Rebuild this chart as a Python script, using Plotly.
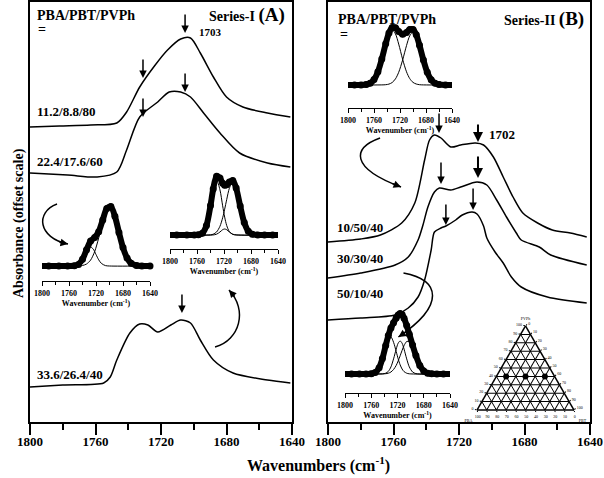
import plotly.graph_objects as go

FONT = "Liberation Serif"

# ---- Series-I (A): PBA/PBT/PVPh main spectra (offset absorbance, arb. units) ----
a1_wn = [1800, 1782, 1763, 1747, 1741, 1733, 1724, 1716, 1708, 1702, 1696, 1688, 1680, 1670, 1655, 1641]
a1_ab = [295, 296, 297, 299, 310, 335, 356, 372, 383, 384, 369, 345, 325, 315, 309, 305]

a2_wn = [1800, 1777, 1759, 1747, 1741, 1733, 1722, 1715, 1708, 1702, 1694, 1684, 1672, 1655, 1641]
a2_ab = [249, 247, 245, 250, 272, 305, 320, 330, 330, 325, 309, 289, 269, 259, 255]

a3_wn = [1800, 1780, 1755, 1751, 1747, 1739, 1733, 1728, 1722, 1714, 1708, 1702, 1696, 1688, 1676, 1655, 1641]
a3_ab = [35, 37, 39, 45, 62, 89, 98, 97, 90, 97, 102, 99, 82, 62, 49, 42, 39]

a_labels = ["11.2/8.8/80", "22.4/17.6/60", "33.6/26.4/40"]

# ---- Series-II (B) ----
b1_wn = [1800, 1780, 1768, 1755, 1747, 1741, 1738, 1735, 1731, 1725, 1719, 1710, 1705, 1699, 1693, 1687, 1681, 1672, 1663, 1652, 1642]
b1_ab = [180, 183, 187, 199, 219, 262, 282, 287, 284, 275, 277, 279, 277, 265, 245, 225, 209, 199, 192, 189, 185]

b2_wn = [1800, 1780, 1759, 1751, 1745, 1742, 1739, 1735, 1732, 1725, 1719, 1709, 1703, 1697, 1691, 1685, 1682, 1671, 1664, 1642]
b2_ab = [144, 149, 157, 165, 182, 197, 215, 230, 234, 232, 235, 240, 237, 222, 205, 189, 182, 175, 167, 157]

b3_wn = [1800, 1780, 1759, 1751, 1745, 1741, 1737, 1735, 1731, 1728, 1722, 1718, 1712, 1709, 1705, 1703, 1698, 1693, 1688, 1682, 1666, 1642]
b3_ab = [102, 104, 107, 114, 125, 142, 172, 190, 194, 196, 202, 207, 210, 208, 196, 184, 170, 159, 145, 135, 125, 119]

b_labels = ["10/50/40", "30/30/40", "50/10/40"]

# ---- curve-fitting insets: measured band (dots) and fitted components ----
# inset in (A), left
i1_wn = [1803, 1790, 1775, 1762, 1752, 1746, 1740, 1734, 1728, 1722, 1716, 1710, 1704, 1698, 1692, 1686, 1680, 1674, 1668, 1660, 1652, 1640]
i1_ab = [0, 0, 0, 0, 0.2, 1.6, 6.7, 16.3, 24.9, 28.6, 34.3, 46.1, 57.5, 59.4, 49.7, 33.6, 18.4, 8.1, 2.8, 0.5, 0, 0]
i1_c1_wn = [1800, 1750, 1745, 1740, 1734, 1728, 1722, 1716, 1710, 1704, 1700, 1696, 1690, 1684, 1678, 1672, 1666, 1660, 1652, 1640]
i1_c1_ab = [0, 0, 0.1, 0.5, 2.0, 5.9, 14.3, 28.1, 44.6, 57.3, 60, 57.3, 44.6, 28.1, 14.3, 5.9, 2.0, 0.5, 0, 0]
i1_c2_wn = [1800, 1756, 1750, 1744, 1740, 1736, 1732, 1728, 1724, 1720, 1716, 1712, 1706, 1700, 1640]
i1_c2_ab = [0, 0, 0.4, 2.6, 6.2, 11.5, 16.8, 19, 16.8, 11.5, 6.2, 2.6, 0.4, 0, 0]

# inset in (A), right
i2_wn = [1803, 1790, 1775, 1764, 1758, 1752, 1746, 1740, 1736, 1731, 1726, 1722, 1719, 1716, 1712, 1707, 1702, 1696, 1690, 1684, 1678, 1670, 1660, 1648, 1636]
i2_ab = [0, 0, 0, 0, 0.2, 1.8, 9.5, 29.4, 46.0, 58.8, 56.9, 51.7, 49.7, 50.2, 53.1, 54.4, 46.9, 28.9, 12.5, 3.8, 0.8, 0.1, 0, 0, 0]
i2_c1_wn = [1800, 1764, 1758, 1752, 1746, 1740, 1736, 1731, 1726, 1722, 1719, 1716, 1712, 1707, 1702, 1640]
i2_c1_ab = [0, 0, 0.2, 1.8, 9.5, 29.2, 45.2, 55, 45.2, 29.2, 17.9, 9.5, 3.3, 0.6, 0.1, 0]
i2_c2_wn = [1800, 1740, 1736, 1731, 1726, 1722, 1719, 1716, 1712, 1707, 1702, 1696, 1690, 1684, 1678, 1670, 1640]
i2_c2_ab = [0, 0.2, 0.8, 3.0, 8.7, 17.2, 25.8, 35.4, 46.8, 53, 46.8, 28.9, 12.5, 3.8, 0.8, 0.1, 0]
i2_c3_wn = [1800, 1737, 1731, 1726, 1722, 1719, 1716, 1712, 1707, 1701, 1640]
i2_c3_ab = [0, 0, 0.8, 3.0, 5.3, 6, 5.3, 3.0, 0.8, 0, 0]

# inset in (B), top
i3_wn = [1803, 1790, 1780, 1772, 1766, 1760, 1754, 1748, 1742, 1737, 1732, 1727, 1722, 1716, 1710, 1705, 1700, 1695, 1690, 1684, 1678, 1672, 1666, 1660, 1650, 1638]
i3_ab = [0, 0, 0, 0.5, 1.8, 5.4, 13.2, 25.9, 41.2, 52.0, 57.5, 57.2, 53.6, 50.7, 52.6, 55.6, 55.6, 50.2, 39.7, 25.0, 12.7, 5.2, 1.7, 0.5, 0, 0]
i3_c1_wn = [1800, 1780, 1772, 1766, 1760, 1754, 1748, 1742, 1737, 1732, 1727, 1722, 1716, 1710, 1705, 1700, 1695, 1690, 1684, 1640]
i3_c1_ab = [0, 0, 0.5, 1.8, 5.4, 13.2, 25.8, 40.9, 51.1, 55, 51.1, 40.9, 25.8, 13.2, 6.4, 2.6, 1.0, 0.3, 0.1, 0]
i3_c2_wn = [1800, 1748, 1742, 1737, 1732, 1727, 1722, 1716, 1710, 1705, 1700, 1695, 1690, 1684, 1678, 1672, 1666, 1660, 1650, 1640]
i3_c2_ab = [0, 0.1, 0.3, 0.9, 2.5, 6.1, 12.7, 24.9, 39.4, 49.2, 53, 49.2, 39.4, 24.9, 12.7, 5.2, 1.7, 0.5, 0, 0]

# inset in (B), bottom
i4_wn = [1803, 1790, 1778, 1768, 1760, 1754, 1748, 1743, 1738, 1734, 1730, 1726, 1722, 1719, 1716, 1713, 1710, 1706, 1702, 1697, 1692, 1686, 1680, 1674, 1668, 1660, 1650, 1639]
i4_ab = [0, 0, 0, 0, 0.2, 1.4, 6.2, 15.4, 28.4, 38.4, 46.1, 51.3, 56.0, 59.0, 60.4, 59.4, 55.7, 48.4, 39.8, 29.0, 18.6, 8.6, 3.1, 0.8, 0.2, 0, 0, 0]
i4_c1_wn = [1800, 1768, 1760, 1754, 1748, 1743, 1738, 1734, 1730, 1726, 1722, 1719, 1716, 1713, 1710, 1706, 1702, 1640]
i4_c1_ab = [0, 0, 0.2, 1.4, 6.2, 15.2, 27.3, 35.0, 37, 31.7, 22.5, 15.2, 9.2, 5.0, 2.4, 0.8, 0.2, 0]
i4_c2_wn = [1800, 1748, 1743, 1738, 1734, 1730, 1726, 1722, 1719, 1716, 1713, 1710, 1706, 1702, 1697, 1692, 1686, 1640]
i4_c2_ab = [0, 0, 0.1, 0.8, 2.6, 7.1, 15.1, 24.9, 30.8, 33, 30.8, 24.9, 15.1, 7.1, 2.0, 0.4, 0, 0]
i4_c3_wn = [1800, 1743, 1738, 1734, 1730, 1726, 1722, 1719, 1716, 1713, 1710, 1706, 1702, 1697, 1692, 1686, 1680, 1674, 1668, 1660, 1640]
i4_c3_ab = [0, 0.1, 0.3, 0.8, 2.0, 4.5, 8.6, 13.0, 18.2, 23.6, 28.4, 32.5, 32.5, 27.0, 18.2, 8.6, 3.1, 0.8, 0.2, 0, 0]

# ternary compositions of Series-II
tern_pba = [50, 30, 10]
tern_pbt = [10, 30, 50]
tern_pvph = [40, 40, 40]

W, H = 604, 478


def px_x(p):
    return p / W


def px_y(p):
    return 1 - p / H


fig = go.Figure()


def add_line(wn, ab, xa, ya, width=1.5, smooth=0.8):
    fig.add_trace(
        go.Scatter(
            x=wn, y=ab, mode="lines", xaxis=xa, yaxis=ya, hoverinfo="skip",
            line=dict(color="black", width=width, shape="spline", smoothing=smooth),
        )
    )


def add_band(wn, ab, xa, ya):
    fig.add_trace(
        go.Scatter(
            x=wn, y=ab, mode="lines+markers", xaxis=xa, yaxis=ya, hoverinfo="skip",
            cliponaxis=False,
            line=dict(color="black", width=6, shape="spline", smoothing=0.8),
            marker=dict(color="black", size=7),
        )
    )


# main spectra
for wn, ab in [(a1_wn, a1_ab), (a2_wn, a2_ab), (a3_wn, a3_ab)]:
    add_line(wn, ab, "x", "y")
for wn, ab in [(b1_wn, b1_ab), (b2_wn, b2_ab), (b3_wn, b3_ab)]:
    add_line(wn, ab, "x2", "y2")

# insets: components first, dotted band on top
insets = [
    ("x3", "y3", i1_wn, i1_ab, [(i1_c1_wn, i1_c1_ab), (i1_c2_wn, i1_c2_ab)]),
    ("x4", "y4", i2_wn, i2_ab, [(i2_c1_wn, i2_c1_ab), (i2_c2_wn, i2_c2_ab), (i2_c3_wn, i2_c3_ab)]),
    ("x5", "y5", i3_wn, i3_ab, [(i3_c1_wn, i3_c1_ab), (i3_c2_wn, i3_c2_ab)]),
    ("x6", "y6", i4_wn, i4_ab, [(i4_c1_wn, i4_c1_ab), (i4_c2_wn, i4_c2_ab), (i4_c3_wn, i4_c3_ab)]),
]
for xa, ya, wn, ab, comps in insets:
    for cwn, cab in comps:
        add_line(cwn, cab, xa, ya, width=1)
    add_band(wn, ab, xa, ya)

fig.add_trace(
    go.Scatterternary(
        a=tern_pvph, b=tern_pba, c=tern_pbt, mode="markers",
        marker=dict(color="black", size=6), hoverinfo="skip",
    )
)

main_x = dict(
    range=[1800, 1640], showline=True, linecolor="black", linewidth=2, mirror=True,
    ticks="outside", ticklen=11, tickwidth=2, tickcolor="black", dtick=40, tick0=1640,
    minor=dict(dtick=20, ticks="outside", ticklen=6, tickwidth=2, tickcolor="black"),
    tickfont=dict(family=FONT, size=13, color="black", weight="bold"),
    ticklabelstandoff=-5,
    showgrid=False, zeroline=False, automargin=False,
)
main_y = dict(
    range=[0, 420], showline=True, linecolor="black", linewidth=2, mirror=True,
    ticks="", showticklabels=False, showgrid=False, zeroline=False, automargin=False,
    domain=[px_y(422), px_y(2)],
)

inset_x = dict(
    range=[1800, 1640], showline=True, linecolor="black", linewidth=1,
    ticks="outside", ticklen=4, tickwidth=1, tickcolor="black", dtick=40, tick0=1640,
    minor=dict(dtick=20, ticks="outside", ticklen=2.5, tickwidth=1, tickcolor="black"),
    tickfont=dict(family=FONT, size=8, color="black", weight="bold"),
    title=dict(text="Wavenumber (cm<sup>-1</sup>)",
               font=dict(family=FONT, size=8, color="black", weight="bold"), standoff=2),
    showgrid=False, zeroline=False, automargin=False,
)
inset_y = dict(visible=False, showgrid=False, zeroline=False, automargin=False)

# inset placement: (x of 1800, x of 1640, axis line y, top y, y range)
inset_boxes = [(42, 150, 281, 196, [-15, 70]),
               (170, 278, 249, 170, [-14, 65]),
               (348, 452, 108, 20, [-23, 65]),
               (345, 450, 393, 305, [-19, 69])]

layout = dict(
    width=W, height=H, autosize=False,
    margin=dict(l=0, r=0, t=0, b=0, pad=0),
    paper_bgcolor="white", plot_bgcolor="rgba(0,0,0,0)",
    showlegend=False,
    font=dict(family=FONT, color="black"),
    xaxis=dict(main_x, domain=[px_x(30), px_x(292)], anchor="y"),
    yaxis=dict(main_y, anchor="x"),
    xaxis2=dict(main_x, domain=[px_x(328), px_x(590)], anchor="y2"),
    yaxis2=dict(main_y, anchor="x2"),
)
for k, (x0, x1, yb, yt, yr) in enumerate(inset_boxes, start=3):
    layout["xaxis%d" % k] = dict(inset_x, domain=[px_x(x0), px_x(x1)], anchor="y%d" % k)
    layout["yaxis%d" % k] = dict(inset_y, domain=[px_y(yb), px_y(yt)], range=yr, anchor="x%d" % k)

tern_axis = dict(
    showline=True, linecolor="black", linewidth=1.5, showgrid=True, gridcolor="black",
    gridwidth=0.5, dtick=10, ticks="outside", ticklen=1.5, tickcolor="black",
    tickfont=dict(family=FONT, size=4, color="black"), min=0,
)
layout["ternary"] = dict(
    sum=100, bgcolor="rgba(0,0,0,0)",
    domain=dict(x=[px_x(477), px_x(574)], y=[px_y(411), px_y(325)]),
    aaxis=dict(tern_axis, gridwidth=1.1, title=dict(text="PVPh", font=dict(size=4))),
    baxis=dict(tern_axis, title=dict(text="PBA", font=dict(size=4))),
    caxis=dict(tern_axis, title=dict(text="PBT", font=dict(size=4))),
)

fig.update_layout(**layout)

ann = []


def text(t, x, y, panel, size=13, anchor="left"):
    ann.append(dict(
        text=t, x=x, y=y, xref="x" + panel, yref="y" + panel, showarrow=False,
        xanchor=anchor, yanchor="middle",
        font=dict(family=FONT, size=size, color="black", weight="bold"),
    ))


def arrow(x, y, panel, ax=0, ay=-21, width=1.5):
    ann.append(dict(
        text="", x=x, y=y, xref="x" + panel, yref="y" + panel, ax=ax, ay=ay,
        showarrow=True, arrowhead=2, arrowsize=1, arrowwidth=width,
        arrowcolor="black", standoff=0,
    ))


# panel A text
text("PBA/PBT/PVPh", 1796.9, 406, "", size=14)
text("=", 1796.3, 392, "", size=14)
text("Series-I <span style='font-size:19px'>(A)</span>", 1643.0, 407, "", size=14, anchor="right")
text("1703", 1698.0, 390, "", size=11)
for lab, yv in zip(a_labels, [310, 260, 48]):
    text(lab, 1796.9, yv, "")

# panel B text
text("PBA/PBT/PVPh", 1795.1, 402, "2", size=14)
text("=", 1793.9, 387, "2", size=14)
text("Series-II <span style='font-size:19px'>(B)</span>", 1642.4, 403, "2", size=14, anchor="right")
text("1702", 1702.9, 287, "2", size=13)
for lab, yv in zip(b_labels, [194, 164, 129]):
    text(lab, 1795.7, yv, "2")

# straight band-position arrows
for xv, yv in [(1705.3, 389), (1731.0, 344), (1705.3, 330), (1731.0, 305), (1707.2, 109)]:
    arrow(xv, yv, "", ay=-20)
arrow(1732.2, 289, "2")
arrow(1708.4, 280, "2", ay=-19, width=2)
arrow(1731.0, 238, "2", ay=-23)
arrow(1708.4, 244, "2", ay=-23, width=2)
arrow(1728.0, 197, "2", ay=-22)
arrow(1711.4, 212, "2", ay=-23)

# heads of the curved arrows
arrow(1776.8, 178, "", ax=-10, ay=-2)
arrow(1678.5, 132, "", ax=7, ay=8)
arrow(1755.4, 235, "2", ax=-10, ay=-4)
arrow(1757.0, 85, "2", ax=9, ay=-6)

# axis titles
ann.append(dict(
    text="Wavenumbers (cm<sup>-1</sup>)", x=px_x(318), y=px_y(477), xref="paper", yref="paper",
    yanchor="bottom", showarrow=False,
    font=dict(family=FONT, size=16, color="black", weight="bold"),
))
ann.append(dict(
    text="Absorbance (offset scale)", x=px_x(9), y=px_y(223), xref="paper", yref="paper",
    showarrow=False, textangle=-90,
    font=dict(family=FONT, size=14, color="black", weight="bold"),
))

curve_style = dict(type="path", line=dict(color="black", width=1.5))
shapes = [
    dict(curve_style, xref="x", yref="y", path="M 1783.5,218 C 1796.9,210 1795.1,184 1776.8,178"),
    dict(curve_style, xref="x", yref="y", path="M 1687.0,75 C 1671.8,82 1666.9,112 1678.5,132"),
    dict(curve_style, xref="x2", yref="y2", path="M 1768.2,284 C 1785.3,274 1786.6,254 1755.4,235"),
    dict(curve_style, xref="x2", yref="y2", path="M 1753.9,149 C 1731.3,142 1728.2,117 1757.0,85"),
]

fig.update_layout(annotations=ann, shapes=shapes)

# page body margin would shift the figure off the 604x478 window
fig.write_html(
    "out.html",
    config={"displayModeBar": False},
    post_script="document.body.style.margin='0px';",
)
